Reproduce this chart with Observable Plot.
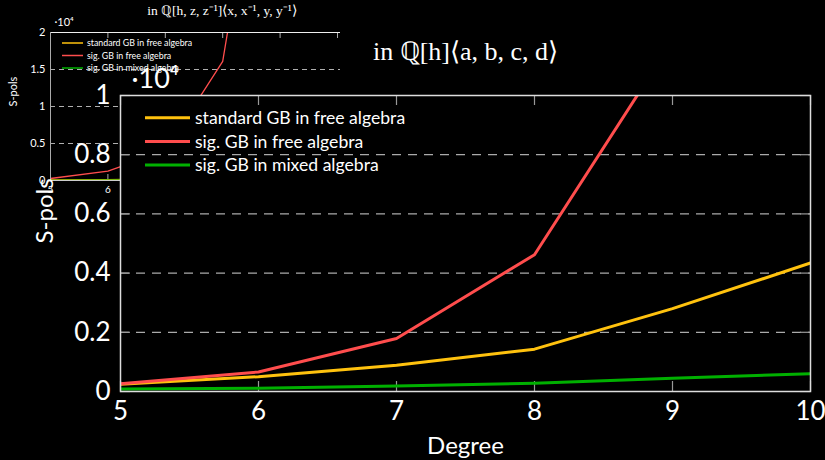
<!DOCTYPE html>
<html>
<head>
<meta charset="utf-8">
<script src="https://cdn.jsdelivr.net/npm/d3@7"></script>
<script src="https://cdn.jsdelivr.net/npm/@observablehq/plot@0.6"></script>
<style>
  html, body { margin: 0; padding: 0; background: #000; }
  #wrap { position: relative; width: 825px; height: 460px; background: #000; overflow: hidden; }
  #wrap svg { position: absolute; left: 0; top: 0; }
</style>
</head>
<body>
<div id="wrap"></div>
<script>
// ---------- data ----------
const degrees = [5, 6, 7, 8, 9, 10];
const seriesNames = ["standard GB in free algebra", "sig. GB in free algebra", "sig. GB in mixed algebra"];
const seriesColors = ["#ffc20e", "#ff4d4d", "#00b000"];

// main chart: in Q[h]<a,b,c,d>
const bigStandardFree = [244, 500, 887, 1430, 2800, 4340];
const bigSigFree      = [264, 660, 1790, 4620, 11850, 30000];
const bigSigMixed     = [85, 108, 186, 277, 447, 602];

// inset chart: in Q[h,z,z^-1]<x,x^-1,y,y^-1>
const smallStandardFree = [90, 120, 220, 420, 800, 1500];
const smallSigFree      = [270, 1260, 4000, 16100, 62700, 150000];
const smallSigMixed     = [30, 50, 90, 140, 210, 300];

const xTicks = [5, 6, 7, 8, 9, 10];
const bigYTicks = [0, 2000, 4000, 6000, 8000, 10000];
const bigGrid = [2000, 4000, 6000, 8000];
const smallYTicks = [0, 5000, 10000, 15000, 20000];
const smallGrid = [5000, 10000, 15000];

const bigTitle = "in ℚ[h]⟨a, b, c, d⟩";
const smallTitle = "in ℚ[h, z, z⁻¹]⟨x, x⁻¹, y, y⁻¹⟩";
const scaleNote = "·10⁴";
const xLabel = "Degree";
const yLabel = "S-pols";

function toLong(arrays) {
  const rows = [];
  arrays.forEach((arr, s) => arr.forEach((v, i) => rows.push({degree: degrees[i], value: v, series: seriesNames[s]})));
  return rows;
}
const bigData = toLong([bigStandardFree, bigSigFree, bigSigMixed]);
const smallData = toLong([smallStandardFree, smallSigFree, smallSigMixed]);

const fmt = d => String(+(d / 10000).toFixed(2));

function legendMark(o) {
  return (index, scales, values, dims) => {
    const g = d3.create("svg:g").attr("text-anchor", "start");
    seriesNames.forEach((name, i) => {
      const y = dims.marginTop + o.y0 + i * o.rowH;
      const x = dims.marginLeft + o.x0;
      g.append("line").attr("x1", x).attr("x2", x + o.len).attr("y1", y).attr("y2", y)
        .attr("stroke", seriesColors[i]).attr("stroke-width", o.sw);
      g.append("text").attr("x", x + o.len + o.gap).attr("y", y).attr("dy", "0.36em")
        .attr("text-anchor", "start")
        .attr("fill", "white").attr("font-size", o.fs).attr("font-family", "Lato").text(name);
    });
    return g.node();
  };
}

// ---------- inset chart ----------
{
  const W = 360, H = 200, mL = 50, mR = 23, mT = 32, mB = 20;
  const fw = W - mL - mR, fh = H - mT - mB;
  const p = Plot.plot({
    width: W, height: H, marginLeft: mL, marginRight: mR, marginTop: mT, marginBottom: mB,
    style: {background: "transparent", color: "white", fontFamily: "Lato", overflow: "visible"},
    x: {domain: [5, 10]},
    y: {domain: [0, 20000]},
    color: {domain: seriesNames, range: seriesColors},
    marks: [
      Plot.ruleY(smallGrid, {y: d => d, stroke: "#ddd", strokeDasharray: "5,4", strokeWidth: 0.8, insetRight: -3}),
      Plot.tickX(xTicks, {x: d => d, insetBottom: fh - 6, stroke: "#aaa"}),
      Plot.tickX(xTicks, {x: d => d, insetTop: fh - 6, stroke: "#aaa"}),
      Plot.tickY(smallYTicks, {y: d => d, insetRight: fw - 5, stroke: "#aaa"}),
      Plot.line(smallData, {x: "degree", y: "value", stroke: "series", strokeWidth: 1.3, clip: true}),
      Plot.ruleY([20000], {y: d => d, stroke: "#eee", strokeWidth: 1.2, insetRight: -3}),
      Plot.ruleY([0], {y: d => d, stroke: "#ccc", strokeWidth: 1, insetRight: -3}),
      Plot.ruleX([5], {x: d => d, stroke: "#aaa", strokeWidth: 1}),
      Plot.axisX({ticks: xTicks, tickSize: 0, tickPadding: 5, fontSize: 10, label: null, tickFormat: d => d}),
      Plot.axisY({ticks: smallYTicks, tickSize: 0, tickPadding: 5, fontSize: 11, label: null, tickFormat: fmt}),
      Plot.text([smallTitle], {frameAnchor: "top", dx: 28, dy: -27, fontSize: 13.5, fontFamily: "Liberation Serif", fill: "white"}),
      Plot.text([scaleNote], {frameAnchor: "top-left", dx: 4, dy: -14, fontSize: 11, textAnchor: "start", fill: "white"}),
      Plot.text([yLabel], {frameAnchor: "left", dx: -37, rotate: -90, fontSize: 11, fill: "white"}),
      legendMark({x0: 12, y0: 11, rowH: 12.5, len: 21, gap: 4, fs: 8.8, sw: 1.5})
    ]
  });
  document.getElementById("wrap").appendChild(p);
}

// ---------- main chart ----------
{
  const W = 825, H = 460, mL = 120, mR = 15, mT = 95, mB = 69;
  const fw = W - mL - mR, fh = H - mT - mB;
  const p = Plot.plot({
    width: W, height: H, marginLeft: mL, marginRight: mR, marginTop: mT, marginBottom: mB,
    style: {background: "transparent", color: "white", fontFamily: "Lato", overflow: "visible"},
    x: {domain: [5, 10]},
    y: {domain: [0, 10000]},
    color: {domain: seriesNames, range: seriesColors},
    marks: [
      Plot.frame({fill: "black", stroke: null}),
      Plot.ruleY(bigGrid, {y: d => d, stroke: "#aaa", strokeDasharray: "9,7", strokeWidth: 1.2}),
      Plot.tickX(xTicks, {x: d => d, insetTop: fh - 10, stroke: "#999", strokeWidth: 1.2}),
      Plot.tickX(xTicks, {x: d => d, insetBottom: fh - 10, stroke: "#999", strokeWidth: 1.2}),
      Plot.tickY(bigYTicks, {y: d => d, insetRight: fw - 10, stroke: "#999", strokeWidth: 1.2}),
      Plot.tickY(bigYTicks, {y: d => d, insetLeft: fw - 10, stroke: "#999", strokeWidth: 1.2}),
      Plot.line(bigData, {x: "degree", y: "value", stroke: "series", strokeWidth: 3, clip: true}),
      Plot.frame({stroke: "#ddd", strokeWidth: 1.5}),
      Plot.axisX({ticks: xTicks, tickSize: 0, tickPadding: 10, fontSize: 26, label: null, tickFormat: d => d}),
      Plot.axisY({ticks: bigYTicks, tickSize: 0, tickPadding: 10, fontSize: 26, label: null, tickFormat: fmt}),
      Plot.text([bigTitle], {frameAnchor: "top", dx: 0, dy: -54, fontSize: 26, fontFamily: "Liberation Serif", fill: "white"}),
      Plot.text([scaleNote], {frameAnchor: "top-left", dx: 11, dy: -27, fontSize: 27, textAnchor: "start", fill: "white"}),
      Plot.text([xLabel], {frameAnchor: "bottom", dy: 62, fontSize: 24, fill: "white"}),
      Plot.text([yLabel], {frameAnchor: "left", dx: -75, rotate: -90, fontSize: 24, fill: "white"}),
      legendMark({x0: 25, y0: 22.7, rowH: 23.7, len: 45, gap: 5, fs: 17.6, sw: 3})
    ]
  });
  document.getElementById("wrap").appendChild(p);
}
</script>
</body>
</html>
